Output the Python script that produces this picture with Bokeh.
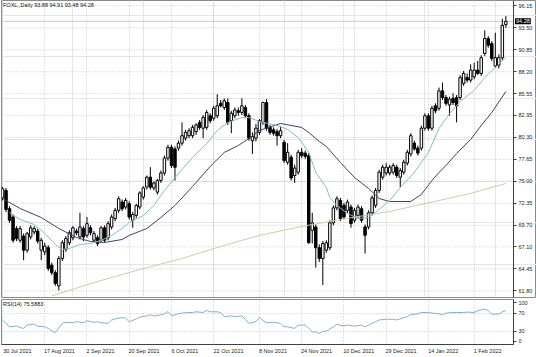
from bokeh.plotting import figure
from bokeh.layouts import column
from bokeh.models import (Range1d, FixedTicker, Label, PrintfTickFormatter,
                          ColumnDataSource, Grid, LinearAxis)
from bokeh.embed import file_html
from bokeh.resources import INLINE

# ---------------- data ----------------
symbol = "FOXL,,Daily"
opens = [73.0, 73.9, 71.7, 70.7, 69.3, 67.9, 68.4, 66.7, 68.3, 68.9,
         69.0, 66.7, 66.5, 67.0, 64.9, 64.0, 62.4, 65.7, 66.8, 67.6,
         68.2, 69.0, 68.3, 69.3, 68.5, 69.4, 67.9, 68.2, 67.9, 69.4,
         68.2, 69.5, 70.5, 71.5, 72.5, 71.9, 72.3, 70.3, 70.9, 71.9,
         73.1, 74.3, 75.5, 74.2, 73.7, 75.1, 76.0, 77.8, 79.1, 78.9,
         79.0, 79.6, 80.2, 80.5, 80.5, 81.0, 82.1, 81.4, 81.5, 82.9,
         82.6, 82.9, 84.4, 83.9, 84.5, 82.3, 82.9, 83.5, 83.3, 83.9,
         82.9, 79.9, 80.2, 80.9, 82.1, 84.5, 81.5, 81.2, 81.0, 80.5,
         79.7, 77.3, 77.9, 75.7, 76.1, 78.5, 78.4, 78.1, 69.1, 69.5,
         67.0, 65.7, 66.7, 67.0, 70.0, 71.8, 72.7, 72.1, 71.5, 71.9,
         70.3, 70.9, 71.7, 69.5, 69.5, 71.2, 72.1, 73.9, 75.5, 76.0,
         76.0, 76.1, 76.7, 75.5, 76.1, 77.2, 78.3, 79.6, 79.0, 79.0,
         81.4, 82.9, 81.4, 84.1, 83.8, 85.9, 85.1, 84.2, 85.0, 85.1,
         85.1, 86.8, 87.5, 87.2, 87.6, 88.4, 88.0, 90.4, 92.2, 91.6,
         88.9, 89.0, 89.9, 93.88]
highs = [74.3, 74.2, 72.0, 71.0, 69.6, 69.6, 68.7, 68.9, 69.7, 69.6,
         69.3, 68.2, 67.6, 67.3, 65.2, 64.3, 66.0, 67.9, 68.4, 69.1,
         69.6, 69.3, 71.2, 69.6, 70.7, 69.7, 69.0, 68.5, 69.6, 69.7,
         70.2, 71.0, 71.8, 73.2, 72.8, 73.0, 72.6, 71.3, 72.3, 73.8,
         74.4, 75.7, 76.7, 75.0, 75.3, 76.3, 78.1, 79.4, 79.4, 79.2,
         79.9, 82.1, 81.2, 81.4, 81.8, 82.0, 82.4, 83.0, 83.6, 83.2,
         84.1, 85.5, 84.8, 85.0, 85.0, 83.5, 83.9, 83.9, 85.0, 84.2,
         83.2, 80.9, 81.9, 82.5, 84.6, 84.9, 81.8, 81.5, 81.3, 81.6,
         80.0, 79.6, 78.2, 77.0, 78.8, 79.0, 78.7, 78.4, 71.2, 69.8,
         67.4, 67.8, 67.9, 70.3, 72.1, 73.2, 73.0, 72.4, 72.8, 72.2,
         71.8, 72.2, 72.0, 69.8, 71.5, 73.3, 74.2, 76.4, 77.0, 77.2,
         77.0, 77.2, 77.0, 76.6, 77.6, 78.8, 80.8, 79.9, 79.3, 81.7,
         83.2, 83.2, 84.1, 84.4, 86.3, 86.9, 85.4, 85.2, 85.6, 85.4,
         87.8, 88.3, 88.0, 89.1, 89.3, 89.5, 90.2, 93.2, 92.5, 91.9,
         92.9, 90.3, 94.6, 94.91]
lows = [72.7, 71.3, 70.0, 67.6, 67.8, 67.6, 65.5, 66.4, 68.0, 68.6,
        67.5, 65.5, 66.1, 64.2, 63.7, 62.4, 61.85, 65.4, 66.5, 67.3,
        67.9, 68.5, 68.0, 67.8, 68.2, 68.5, 67.6, 67.2, 67.6, 67.6,
        67.9, 69.2, 70.2, 71.2, 71.4, 71.6, 70.4, 69.4, 70.6, 71.6,
        72.8, 74.0, 74.0, 73.9, 73.4, 74.8, 75.7, 77.5, 76.6, 75.1,
        78.7, 79.3, 79.9, 80.2, 80.2, 80.6, 81.2, 80.2, 81.2, 82.0,
        82.3, 82.6, 83.9, 83.6, 81.8, 80.8, 82.6, 82.9, 83.0, 82.6,
        79.9, 78.3, 79.8, 80.6, 81.8, 81.1, 80.6, 80.5, 79.3, 80.2,
        77.2, 77.0, 75.1, 74.8, 75.8, 77.8, 77.7, 67.5, 67.5, 64.6,
        65.3, 62.5, 66.4, 66.7, 69.7, 71.5, 70.2, 70.4, 71.2, 69.4,
        70.0, 70.6, 70.0, 66.3, 69.2, 70.9, 71.8, 73.6, 75.2, 75.7,
        75.7, 75.8, 75.4, 74.3, 75.8, 76.9, 78.0, 78.7, 78.1, 78.7,
        81.1, 81.1, 81.1, 83.2, 83.5, 84.8, 84.1, 82.9, 84.2, 82.1,
        84.8, 86.5, 86.9, 86.9, 87.3, 87.8, 87.7, 90.1, 91.1, 89.5,
        88.7, 88.6, 89.6, 93.48]
closes = [74.1, 71.6, 70.3, 67.9, 68.1, 69.3, 66.7, 68.7, 69.4, 69.3,
          67.8, 67.9, 67.2, 64.5, 64.0, 62.7, 65.7, 67.6, 68.1, 68.8,
          69.4, 68.8, 69.5, 68.3, 69.9, 68.8, 68.7, 67.5, 69.4, 67.9,
          69.9, 70.7, 71.5, 72.9, 71.7, 72.7, 70.7, 71.0, 72.1, 73.6,
          74.2, 75.5, 74.3, 74.8, 75.1, 76.0, 77.8, 79.1, 76.9, 76.7,
          79.6, 80.5, 80.9, 81.1, 81.5, 81.8, 81.5, 82.7, 83.3, 82.3,
          83.8, 84.1, 84.1, 84.7, 82.1, 83.2, 83.6, 83.3, 84.1, 82.9,
          80.2, 80.4, 81.4, 82.3, 84.5, 81.4, 80.9, 80.8, 80.5, 81.1,
          77.5, 78.5, 75.4, 76.6, 78.5, 78.1, 78.0, 67.6, 70.0, 67.0,
          65.7, 67.5, 67.6, 70.0, 71.8, 72.9, 70.5, 70.7, 72.5, 69.9,
          71.5, 71.9, 70.3, 68.5, 71.2, 73.0, 73.9, 76.1, 76.7, 76.7,
          76.7, 76.9, 75.7, 76.3, 77.3, 78.5, 80.5, 78.9, 78.4, 81.4,
          82.9, 81.4, 83.8, 83.5, 85.9, 85.1, 84.4, 84.9, 84.5, 84.1,
          87.5, 88.0, 87.2, 88.4, 88.4, 88.0, 89.9, 92.2, 91.4, 89.8,
          89.9, 89.9, 93.8, 94.28]

# moving averages (bar index, value)
fast_x = [2, 5, 9, 12, 15, 17, 19, 22, 25, 28, 31, 34, 36, 40, 43, 46, 50, 54, 58, 61,
          64, 68, 70, 73, 78, 81, 84, 87, 89, 92, 93, 95, 98, 101, 104, 107, 110, 113, 117, 121,
          124, 127, 130, 134, 137, 140, 143]
fast_v = [71.25, 70.40, 69.80, 68.72, 67.39, 66.79, 66.91, 67.39, 67.51, 67.87,
          68.48, 69.32, 70.04, 70.88, 72.09, 73.90, 75.95, 77.87, 79.56, 81.13,
          82.09, 82.69, 82.69, 82.21, 81.73, 81.25, 80.28, 78.48, 76.07, 74.26,
          73.05, 72.09, 71.13, 70.52, 70.64, 71.61, 72.69, 74.26, 76.07, 78.48,
          81.37, 83.17, 84.62, 85.95, 87.51, 88.72, 89.92]
slow_x = [0, 5, 11, 16, 21, 25, 29, 34, 36, 41, 45, 49, 54, 59, 63, 67, 70, 73, 79, 85,
          87, 90, 92, 96, 100, 104, 107, 110, 116, 119, 122, 124, 126, 129, 133, 136, 139, 143]
slow_v = [72.93, 71.73, 70.64, 69.32, 68.23, 67.75, 67.63, 67.99, 68.48, 69.32,
          70.64, 72.09, 74.38, 76.79, 78.48, 79.32, 80.16, 81.13, 81.97, 81.49,
          80.88, 79.80, 79.20, 77.27, 75.46, 74.14, 72.93, 72.57, 72.57, 73.42,
          75.10, 76.07, 76.91, 78.35, 80.04, 81.73, 83.29, 85.82]
long_x = [14, 28, 39, 51, 62, 73, 85, 96, 110, 124, 133, 143]
long_v = [61.2, 63.05, 64.37, 65.70, 67.15, 68.48, 69.56, 70.40, 71.37, 72.69, 73.54, 74.74]

rsi_x = [0, 1, 2, 4, 5, 6, 7, 9, 10, 12, 13, 14, 15, 16, 17, 18, 20, 21, 23, 24,
         26, 27, 28, 30, 31, 32, 34, 35, 36, 38, 39, 41, 42, 43, 45, 46, 47, 48, 50, 51,
         53, 54, 55, 57, 58, 59, 61, 62, 63, 65, 66, 68, 69, 70, 72, 73, 74, 75, 77, 79,
         80, 81, 83, 84, 86, 87, 88, 89, 90, 91, 92, 94, 95, 97, 98, 100, 102, 103, 105, 106,
         107, 109, 111, 112, 114, 115, 116, 118, 119, 121, 122, 124, 125, 126, 128, 129, 131, 132, 134, 135,
         137, 138, 139, 141, 142, 143]
rsi_v = [54.5, 47.0, 39.3, 40.9, 38.0, 35.7, 43.2, 45.5, 40.9, 39.3,
         35.7, 30.2, 26.6, 37.0, 47.0, 49.3, 48.4, 50.7, 48.4, 53.0,
         49.3, 50.7, 48.4, 47.0, 54.5, 56.8, 59.8, 58.4, 50.7, 56.8,
         60.7, 63.6, 65.9, 63.6, 65.9, 68.2, 73.4, 63.6, 68.2, 69.8,
         71.1, 71.1, 72.7, 71.1, 75.7, 72.7, 72.7, 71.1, 62.0, 63.6,
         62.0, 63.6, 56.1, 47.0, 50.7, 60.7, 53.0, 48.4, 49.3, 47.0,
         39.3, 39.3, 35.7, 43.2, 43.2, 35.7, 28.0, 28.0, 24.3, 29.5,
         29.5, 39.3, 44.8, 40.9, 43.2, 40.9, 43.2, 39.3, 47.0, 50.7,
         54.5, 56.1, 56.1, 54.5, 59.8, 62.0, 66.6, 68.2, 71.1, 71.1,
         69.8, 68.2, 65.9, 69.8, 71.1, 71.1, 71.1, 72.0, 71.1, 75.0,
         78.9, 75.0, 67.5, 67.5, 72.7, 75.59]
rsi_last = "75.5883"

price_ticks = [96.15, 93.50, 90.85, 88.20, 85.55, 82.95, 80.30, 77.65,
               75.00, 72.35, 69.70, 67.10, 64.45, 61.80]
date_labels = ["30 Jul 2021", "17 Aug 2021", "2 Sep 2021", "20 Sep 2021", "6 Oct 2021",
               "22 Oct 2021", "8 Nov 2021", "24 Nov 2021", "10 Dec 2021", "29 Dec 2021",
               "14 Jan 2022", "1 Feb 2022"]
date_bars = [0, 12, 24, 36, 48, 60, 73, 85, 97, 109, 121, 134]
rsi_ticks = [0, 30, 70, 100]

# ---------------- layout constants ----------------
W = 536
PX_PER_BAR = 3.52
MAIN_FRAME_W = 535
X0 = -1.0 / PX_PER_BAR                 # bar 0 sits 1px inside the frame
AX = X0 + 512 / PX_PER_BAR             # price scale line position
X1_MAIN = X0 + MAIN_FRAME_W / PX_PER_BAR
X1_RSI = AX
Y_LO, Y_HI = 61.0, 96.79
PX_PER_PRICE = 8.3
FONT = "Liberation Sans"
FS = "5.5px"
GRID_COLOR = "#c4c4c4"
TXT = "#222222"

n = len(closes)
idx = list(range(n))
up = [c >= o for o, c in zip(opens, closes)]
up_src = ColumnDataSource(dict(
    x=[i for i in idx if up[i]],
    top=[closes[i] for i in idx if up[i]],
    bottom=[opens[i] for i in idx if up[i]]))
dn_src = ColumnDataSource(dict(
    x=[i for i in idx if not up[i]],
    top=[opens[i] for i in idx if not up[i]],
    bottom=[closes[i] for i in idx if not up[i]]))

grid_x = [float(b) for b in date_bars]
label_x = [round(b + (len(t) * 2.7 / 2.0) / PX_PER_BAR, 3) for b, t in zip(date_bars, date_labels)]

# ---------------- main price panel ----------------
p = figure(frame_width=MAIN_FRAME_W, frame_height=297,
           x_range=Range1d(X0, X1_MAIN), y_range=Range1d(Y_LO, Y_HI),
           x_axis_location=None, y_axis_location=None,
           output_backend="svg", toolbar_location=None, tools="",
           min_border_left=1, min_border_right=0, min_border_top=0, min_border_bottom=1)
p.background_fill_color = "white"
p.border_fill_color = "white"
p.outline_line_color = "#8a8a8a"
p.add_layout(Grid(dimension=0, ticker=FixedTicker(ticks=grid_x),
                  grid_line_color=GRID_COLOR, grid_line_dash="1 2"))
# horizontal grid lines stop at the price scale
p.segment(x0=[X0] * len(price_ticks), y0=price_ticks, x1=[AX] * len(price_ticks), y1=price_ticks,
          line_color=GRID_COLOR, line_dash="1 2", line_width=1)

ya = LinearAxis(fixed_location=AX, ticker=FixedTicker(ticks=price_ticks),
                formatter=PrintfTickFormatter(format="%.2f"))
ya.major_label_text_font = FONT
ya.major_label_text_font_size = FS
ya.major_label_text_color = TXT
ya.major_tick_out = 3
ya.major_tick_in = 0
ya.minor_tick_line_color = None
ya.major_label_standoff = 2
ya.axis_line_color = "#404040"
ya.major_tick_line_color = "#404040"
p.add_layout(ya, "right")

# bid line
p.segment(x0=[X0], y0=[closes[-1]], x1=[AX], y1=[closes[-1]], line_color="#c8c8c8", line_width=1)

# candles
p.segment(x0=idx, y0=lows, x1=idx, y1=highs, line_color="#000000", line_width=1)
p.vbar(x="x", top="top", bottom="bottom", width=0.7, source=up_src,
       fill_color="white", line_color="#000000", line_width=1)
p.vbar(x="x", top="top", bottom="bottom", width=0.7, source=dn_src,
       fill_color="#000000", line_color="#000000", line_width=1)

# moving averages
p.line(long_x, long_v, line_color="#d8c6a0", line_width=1)
p.line(slow_x, slow_v, line_color="#3f3f72", line_width=1)
p.line(fast_x, fast_v, line_color="#80c0bc", line_width=1)

title_txt = "%s  %.2f %.2f %.2f %.2f" % (symbol, opens[-1], highs[-1], lows[-1], closes[-1])
p.add_layout(Label(x=X0 + 1.5 / PX_PER_BAR, y=Y_HI - 4.5 / PX_PER_PRICE, text=title_txt,
                   text_font=FONT, text_font_size=FS, text_color="#111111",
                   text_baseline="middle", text_align="left"))
p.add_layout(Label(x=AX + 1.5 / PX_PER_BAR, y=closes[-1], text="%.2f" % closes[-1],
                   text_font=FONT, text_font_size=FS, text_color="white",
                   text_baseline="middle", text_align="left",
                   background_fill_color="#000000", padding=1))

# ---------------- RSI panel ----------------
r = figure(width=W, height=59, x_range=Range1d(X0, X1_RSI), y_range=Range1d(0, 100),
           x_axis_location="below", y_axis_location="right",
           output_backend="svg", toolbar_location=None, tools="",
           min_border_left=1, min_border_right=23, min_border_top=1, min_border_bottom=13)
r.background_fill_color = "white"
r.border_fill_color = "white"
r.outline_line_color = "#8a8a8a"
r.xgrid.visible = False
r.ygrid.visible = False
r.add_layout(Grid(dimension=0, ticker=FixedTicker(ticks=grid_x),
                  grid_line_color=GRID_COLOR, grid_line_dash="1 2"))
r.add_layout(Grid(dimension=1, ticker=FixedTicker(ticks=[30, 70]),
                  grid_line_color=GRID_COLOR, grid_line_dash="1 2"))

# edge labels (100 / 0) are drawn slightly inside the panel, as the terminal does
rsi_k = 45 / 100.0
rsi_label_pos = [round(v + (3 / rsi_k if v == 0 else -3 / rsi_k if v == 100 else 0), 3) for v in rsi_ticks]
ra = r.yaxis[0]
ra.ticker = FixedTicker(ticks=rsi_label_pos)
ra.major_label_overrides = {pos: str(v) for pos, v in zip(rsi_label_pos, rsi_ticks)}
ra.major_label_text_font = FONT
ra.major_label_text_font_size = FS
ra.major_label_text_color = TXT
ra.major_tick_out = 3
ra.major_tick_in = 0
ra.minor_tick_line_color = None
ra.major_label_standoff = 2
ra.axis_line_color = "#404040"
ra.major_tick_line_color = "#404040"

xa = r.xaxis[0]
xa.ticker = FixedTicker(ticks=label_x)
xa.major_label_overrides = {lx: t for lx, t in zip(label_x, date_labels)}
xa.major_label_text_font = FONT
xa.major_label_text_font_size = FS
xa.major_label_text_color = TXT
xa.major_tick_line_color = None
xa.minor_tick_line_color = None
xa.major_tick_out = 0
xa.major_label_standoff = 3
xa.axis_line_color = "#404040"

r.line(rsi_x, rsi_v, line_color="#7fb2d2", line_width=1)
r.add_layout(Label(x=X0 + 1.5 / PX_PER_BAR, y=89, text="RSI(14) " + rsi_last,
                   text_font=FONT, text_font_size=FS, text_color="#111111",
                   text_baseline="middle", text_align="left"))

layout = column(p, r, spacing=0)
open("out.html", "w").write(file_html(layout, INLINE))
